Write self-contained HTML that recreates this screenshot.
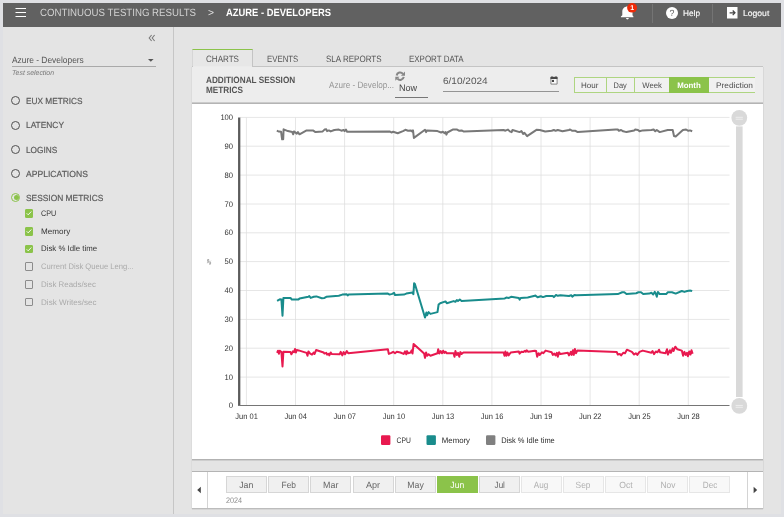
<!DOCTYPE html>
<html lang="en">
<head>
<meta charset="utf-8">
<title>Continuous Testing Results - Azure - Developers</title>
<style>
*{box-sizing:border-box;margin:0;padding:0}
html,body{width:784px;height:517px;overflow:hidden}
body{text-rendering:geometricPrecision;background:#dfe0e4;font-family:"Liberation Sans",sans-serif;position:relative;color:#444}
.a{position:absolute}
.t{position:absolute;white-space:nowrap;line-height:1}
#hdr{left:3px;top:3px;width:778px;height:24px;background:#616161}
#side{left:3px;top:27px;width:170px;height:487px;background:#e4e4e4}
#divider{left:173px;top:27px;width:1px;height:487px;background:#c6c6c6}
#main{left:174px;top:27px;width:607px;height:487px;background:#e4e4e4}
.sep{position:absolute;top:4px;width:1px;height:19px;background:#747474}
.nav{font-size:8.8px;color:#5a5a5a;left:25.7px;-webkit-text-stroke:.18px #5a5a5a}
.rad{position:absolute;left:11.3px;width:9px;height:9px;border:1.5px solid #505050;border-radius:50%}
.cb{position:absolute;left:25.1px;width:8.3px;height:8.5px;border:1.2px solid #8c8c8c;border-radius:1px}
.cb.on{background:#8bc34a;border-color:#8bc34a}
.cl{font-size:8px;left:40.5px;color:#333}
.cl.off{color:#aaa}
.tab{font-size:9.2px;color:#555;top:55px}
.seg{position:absolute;top:77px;height:16px;font-size:8px;color:#4c4c4c;text-align:center;line-height:15px;border-top:1px solid #aed581;border-bottom:1px solid #aed581;border-left:1px solid #aed581;background:#f1f1f1;white-space:nowrap}
.mon{position:absolute;top:476px;width:41px;height:17px;background:#f0f0f0;border:1px solid #d6d6d6;font-size:9px;color:#666;text-align:center;line-height:16px}
.mon.dis{color:#b0b0b0;background:#f8f8f8;border-color:#e6e6e6}

.sx{display:inline-block}
.mon.sel{background:#8bc34a;border-color:#8bc34a;color:#fff}
</style>
</head>
<body>
<div id="hdr" class="a"></div>
<div id="side" class="a"></div>
<div id="divider" class="a"></div>
<div id="main" class="a"></div>
<!-- header -->
<svg class="a" style="left:15px;top:6.5px" width="12" height="12" viewBox="0 0 12 12"><path d="M0.5 1.5h10.5M0.5 5.5h10.5M0.5 9.5h10.5" stroke="#fff" stroke-width="1.2" fill="none"/></svg>
<div class="t" id="h1" style="transform:scaleX(0.921);transform-origin:left;left:40px;top:7.7px;font-size:10.5px;color:#d2d2d2">CONTINUOUS TESTING RESULTS</div>
<div class="t" id="h2" style="transform:scaleX(0.977);transform-origin:left;left:208px;top:7.7px;font-size:10.5px;color:#e8e8e8">&gt;</div>
<div class="t" id="h3" style="transform:scaleX(0.895);transform-origin:left;left:226px;top:7.7px;font-size:10.5px;color:#fff;font-weight:bold">AZURE - DEVELOPERS</div>
<svg class="a" style="left:619px;top:3px" width="20" height="19" viewBox="0 0 20 19"><path d="M8.4 3.4C5.4 3.4 3.3 5.6 3.3 8.6V12.2L1.9 13.6V14.3H14.4V13.6L13.5 12.2V8.6C13.5 5.6 11.4 3.4 8.4 3.4Z" fill="#fff"/><path d="M7 15.1h2.8a1.4 1.4 0 0 1-2.8 0z" fill="#fff"/><ellipse cx="13.1" cy="4.85" rx="5" ry="4.75" fill="#ee2a08"/></svg>
<div class="t" id="badge" style="left:630.3px;top:4.5px;font-size:7px;font-weight:bold;color:#fff">1</div>
<div class="sep" style="left:652px"></div><div class="sep" style="left:712px"></div>
<div class="a" style="left:666px;top:7px;width:12px;height:12px;border-radius:50%;background:#fff"></div>
<div class="t" id="q" style="left:669.6px;top:8.8px;font-size:8.8px;color:#5a5a5a">?</div>
<div class="t" id="help" style="transform:scaleX(1.009);transform-origin:left;left:683.3px;top:10px;font-size:8.2px;color:#fff;-webkit-text-stroke:.12px #fff">Help</div>
<svg class="a" style="left:727px;top:7px" width="11" height="12" viewBox="0 0 11 12"><rect x="0" y="0" width="10.5" height="11.5" fill="#fff"/><path d="M2.6 5.8h5.4M5.7 3.5l2.3 2.3l-2.3 2.3" stroke="#444" stroke-width="1.2" fill="none"/></svg>
<div class="t" id="logout" style="transform:scaleX(1.05);transform-origin:left;left:743.4px;top:10px;font-size:8.2px;color:#fff;-webkit-text-stroke:.12px #fff">Logout</div>
<!-- sidebar -->
<svg class="a" style="left:148px;top:34px" width="8" height="8" viewBox="0 0 8 8"><path d="M3.6 1L1.2 4l2.4 3M6.6 1L4.2 4l2.4 3" stroke="#7a7a7a" stroke-width="1.1" fill="none"/></svg>
<div class="t" id="sel" style="transform:scaleX(0.932);transform-origin:left;left:12px;top:55.5px;font-size:9px;color:#555">Azure - Developers</div>
<svg class="a" style="left:147px;top:58px" width="8" height="5" viewBox="0 0 8 5"><path d="M1 1h5.6L3.8 3.8z" fill="#555"/></svg>
<div class="a" style="left:12px;top:65.5px;width:144px;height:1px;background:#a9a9a9"></div>
<div class="t" id="tsel" style="transform:scaleX(0.987);transform-origin:left;left:12px;top:69.5px;font-size:7px;font-style:italic;color:#777">Test selection</div>
<div class="rad" style="top:96.2px"></div>
<div class="t nav" id="nav0" style="transform:scaleX(0.941);transform-origin:left;top:97px">EUX METRICS</div>
<div class="rad" style="top:120.5px"></div>
<div class="t nav" id="nav1" style="transform:scaleX(0.952);transform-origin:left;top:121.3px">LATENCY</div>
<div class="rad" style="top:144.8px"></div>
<div class="t nav" id="nav2" style="transform:scaleX(0.938);transform-origin:left;top:145.6px">LOGINS</div>
<div class="rad" style="top:169.1px"></div>
<div class="t nav" id="nav3" style="transform:scaleX(0.976);transform-origin:left;top:169.9px">APPLICATIONS</div>
<div class="rad" style="top:193.3px;border-color:#8bc34a;border-width:1.6px;width:9.2px;height:9.2px"></div><div class="a" style="left:13.5px;top:195.4px;width:5px;height:5px;border-radius:50%;background:#8bc34a"></div>
<div class="t nav" id="nav4" style="transform:scaleX(0.953);transform-origin:left;top:194.2px">SESSION METRICS</div>
<div class="cb on" style="top:209.2px"></div><svg class="a" style="left:25.2px;top:209.4px" width="8" height="8" viewBox="0 0 8 8"><path d="M1.7 4.3l1.5 1.5l3.1-3.3" stroke="#fff" stroke-width=".9" fill="none"/></svg>
<div class="t cl" id="cl0" style="transform:scaleX(0.9);transform-origin:left;top:209.9px">CPU</div>
<div class="cb on" style="top:227px"></div><svg class="a" style="left:25.2px;top:227.2px" width="8" height="8" viewBox="0 0 8 8"><path d="M1.7 4.3l1.5 1.5l3.1-3.3" stroke="#fff" stroke-width=".9" fill="none"/></svg>
<div class="t cl" id="cl1" style="transform:scaleX(1.011);transform-origin:left;top:227.7px">Memory</div>
<div class="cb on" style="top:244.7px"></div><svg class="a" style="left:25.2px;top:244.9px" width="8" height="8" viewBox="0 0 8 8"><path d="M1.7 4.3l1.5 1.5l3.1-3.3" stroke="#fff" stroke-width=".9" fill="none"/></svg>
<div class="t cl" id="cl2" style="transform:scaleX(0.978);transform-origin:left;top:245.4px">Disk % Idle time</div>
<div class="cb" style="top:262.4px"></div>
<div class="t cl off" id="cl3" style="transform:scaleX(0.95);transform-origin:left;top:263.1px">Current Disk Queue Leng...</div>
<div class="cb" style="top:280.2px"></div>
<div class="t cl off" id="cl4" style="transform:scaleX(0.988);transform-origin:left;top:280.9px">Disk Reads/sec</div>
<div class="cb" style="top:297.9px"></div>
<div class="t cl off" id="cl5" style="transform:scaleX(1.01);transform-origin:left;top:298.6px">Disk Writes/sec</div>
<!-- tabs -->
<div class="a" style="left:192px;top:49px;width:61px;height:18px;background:#e7e7e7;border-top:1.5px solid #8bc34a;border-left:1px solid #d6d6d6;border-right:1px solid #c4c4c4"></div>
<div class="a" style="left:192px;top:66px;width:571px;height:38px;background:#ededed;border-top:1px solid #c4c4c4;border-bottom:1px solid #b4b4b4"></div>
<div class="a" style="left:192px;top:102px;width:571px;height:1px;background:#cbcbcb"></div>
<div class="a" style="left:193px;top:66px;width:59px;height:1px;background:#ebebeb"></div>
<div class="t tab" id="tab0" style="transform:scaleX(0.877);transform-origin:left;left:205.7px">CHARTS</div>
<div class="t tab" id="tab1" style="transform:scaleX(0.85);transform-origin:left;left:266.7px">EVENTS</div>
<div class="t tab" id="tab2" style="transform:scaleX(0.872);transform-origin:left;left:325.8px">SLA REPORTS</div>
<div class="t tab" id="tab3" style="transform:scaleX(0.866);transform-origin:left;left:408.9px">EXPORT DATA</div>
<div class="t" id="ttl" style="transform:scaleX(0.893);transform-origin:left;left:205.7px;top:74.9px;font-size:9.2px;font-weight:bold;color:#555;line-height:10.3px">ADDITIONAL SESSION<br>METRICS</div>
<div class="t" id="azd" style="transform:scaleX(0.884);transform-origin:left;left:329px;top:81.1px;font-size:9.2px;color:#959595">Azure - Develop...</div>
<svg class="a" style="left:394.7px;top:70.6px" width="10.4" height="10.4" viewBox="0 0 10 10"><path d="M1.6 4.3A3.4 3.4 0 0 1 7.6 2.7M8.4 5.7A3.4 3.4 0 0 1 2.4 7.3" stroke="#878787" stroke-width="2" fill="none"/><path d="M9.7 .5v4h-4zM.3 9.5v-4h4z" fill="#878787"/></svg>
<div class="t" id="now" style="transform:scaleX(0.973);transform-origin:left;left:398.5px;top:83.5px;font-size:9.3px;color:#444">Now</div>
<div class="a" style="left:395px;top:96.5px;width:33px;height:1px;background:#777"></div>
<div class="t" id="date" style="transform:scaleX(1.071);transform-origin:left;left:443px;top:75.8px;font-size:9.4px;color:#555">6/10/2024</div>
<div class="a" style="left:443px;top:91px;width:116px;height:1px;background:#949494"></div>
<svg class="a" style="left:550px;top:76px" width="8" height="9" viewBox="0 0 8 9"><path d="M.9 1.4h6.2v6.7H.9z" fill="#fafafa" stroke="#6e6e6e" stroke-width=".8"/><path d="M.5 .9h7v2.1H.5z" fill="#484848"/><rect x="1.9" y="3.9" width="2.1" height="2.1" fill="#444"/><path d="M2 .1v1M6 .1v1" stroke="#484848" stroke-width=".9"/></svg>
<div class="seg" style="left:573.5px;width:32px"><span class="sx" id="seg0" style="transform:scaleX(1.003);transform-origin:center;">Hour</span></div>
<div class="seg" style="left:605.5px;width:28.5px"><span class="sx" id="seg1" style="transform:scaleX(0.927);transform-origin:center;">Day</span></div>
<div class="seg" style="left:634px;width:35px"><span class="sx" id="seg2" style="transform:scaleX(0.965);transform-origin:center;">Week</span></div>
<div class="seg" style="left:669px;width:39.5px;background:#8bc34a;border-color:#8bc34a;color:#fff;font-weight:bold"><span class="sx" id="seg3" style="transform:scaleX(0.983);transform-origin:center;">Month</span></div>
<div class="seg" style="left:708.5px;width:46.5px;border-left:0;text-align:left;padding-left:7px"><span class="sx" id="seg4" style="transform:scaleX(1.04);transform-origin:left;">Prediction</span></div>
<!-- chart -->
<div class="a" style="left:192px;top:104px;width:571px;height:355px;background:#fff"></div>
<div class="a" style="left:192px;top:459px;width:571px;height:1px;background:#b2b2b2"></div>
<div class="a" style="left:192px;top:460px;width:571px;height:1px;background:#cecece"></div>
<div class="a" style="left:192px;top:471px;width:571px;height:1px;background:#b4b4b4"></div>
<div class="a" style="left:191px;top:67px;width:1px;height:442px;background:#dcdcdc"></div>
<div class="a" style="left:763px;top:67px;width:1px;height:442px;background:#d8d8d8"></div>
<div class="a" style="left:192px;top:472px;width:571px;height:36px;background:#fff"></div>
<div class="a" style="left:192px;top:508px;width:571px;height:1px;background:#bcbcbc"></div>
<div class="a" style="left:192px;top:509px;width:571px;height:1px;background:#d6d6d6"></div>
<svg class="a" style="left:0;top:0" width="784" height="517" viewBox="0 0 784 517" font-family="Liberation Sans, sans-serif">
<path d="M240 117.4H729.5M240 146.2H729.5M240 175.1H729.5M240 204H729.5M240 232.8H729.5M240 261.6H729.5M240 290.5H729.5M240 319.4H729.5M240 348.2H729.5M240 377.1H729.5M246.4 117.5V405.5M295.5 117.5V405.5M344.6 117.5V405.5M393.7 117.5V405.5M442.8 117.5V405.5M491.9 117.5V405.5M541 117.5V405.5M590.1 117.5V405.5M639.2 117.5V405.5M688.3 117.5V405.5" stroke="#dddddd" stroke-width=".75" fill="none"/>
<rect x="736" y="126.4" width="6.6" height="270.6" fill="#d9d9d9"/>
<circle cx="739.3" cy="117.8" r="7.9" fill="#d9d9d9"/><path d="M735.6 117.3h7.3M735.6 119.2h7.3" stroke="#efefef" stroke-width=".9"/>
<circle cx="739.3" cy="405.9" r="7.9" fill="#d9d9d9"/><path d="M735.6 405.4h7.3M735.6 407.3h7.3" stroke="#efefef" stroke-width=".9"/>
<path d="M239.2 117.5V406" stroke="#5c5c5c" stroke-width="2.3"/>
<path d="M238 405.5H729.5" stroke="#757575" stroke-width="1"/>
<text x="233.1" y="119.9" font-size="8" fill="#333" text-anchor="end" textLength="12.7" lengthAdjust="spacingAndGlyphs">100</text>
<text x="233.1" y="148.8" font-size="8" fill="#333" text-anchor="end" textLength="8.5" lengthAdjust="spacingAndGlyphs">90</text>
<text x="233.1" y="177.6" font-size="8" fill="#333" text-anchor="end" textLength="8.5" lengthAdjust="spacingAndGlyphs">80</text>
<text x="233.1" y="206.5" font-size="8" fill="#333" text-anchor="end" textLength="8.5" lengthAdjust="spacingAndGlyphs">70</text>
<text x="233.1" y="235.3" font-size="8" fill="#333" text-anchor="end" textLength="8.5" lengthAdjust="spacingAndGlyphs">60</text>
<text x="233.1" y="264.1" font-size="8" fill="#333" text-anchor="end" textLength="8.5" lengthAdjust="spacingAndGlyphs">50</text>
<text x="233.1" y="293" font-size="8" fill="#333" text-anchor="end" textLength="8.5" lengthAdjust="spacingAndGlyphs">40</text>
<text x="233.1" y="321.9" font-size="8" fill="#333" text-anchor="end" textLength="8.5" lengthAdjust="spacingAndGlyphs">30</text>
<text x="233.1" y="350.7" font-size="8" fill="#333" text-anchor="end" textLength="8.5" lengthAdjust="spacingAndGlyphs">20</text>
<text x="233.1" y="379.6" font-size="8" fill="#333" text-anchor="end" textLength="8.5" lengthAdjust="spacingAndGlyphs">10</text>
<text x="233.1" y="408.4" font-size="8" fill="#333" text-anchor="end" textLength="4.3" lengthAdjust="spacingAndGlyphs">0</text>
<text x="246.6" y="419" font-size="8" fill="#333" text-anchor="middle" textLength="22.5" lengthAdjust="spacingAndGlyphs">Jun 01</text>
<text x="295.7" y="419" font-size="8" fill="#333" text-anchor="middle" textLength="22.5" lengthAdjust="spacingAndGlyphs">Jun 04</text>
<text x="344.8" y="419" font-size="8" fill="#333" text-anchor="middle" textLength="22.5" lengthAdjust="spacingAndGlyphs">Jun 07</text>
<text x="393.9" y="419" font-size="8" fill="#333" text-anchor="middle" textLength="22.5" lengthAdjust="spacingAndGlyphs">Jun 10</text>
<text x="443" y="419" font-size="8" fill="#333" text-anchor="middle" textLength="22.5" lengthAdjust="spacingAndGlyphs">Jun 13</text>
<text x="492.1" y="419" font-size="8" fill="#333" text-anchor="middle" textLength="22.5" lengthAdjust="spacingAndGlyphs">Jun 16</text>
<text x="541.2" y="419" font-size="8" fill="#333" text-anchor="middle" textLength="22.5" lengthAdjust="spacingAndGlyphs">Jun 19</text>
<text x="590.3" y="419" font-size="8" fill="#333" text-anchor="middle" textLength="22.5" lengthAdjust="spacingAndGlyphs">Jun 22</text>
<text x="639.4" y="419" font-size="8" fill="#333" text-anchor="middle" textLength="22.5" lengthAdjust="spacingAndGlyphs">Jun 25</text>
<text x="688.5" y="419" font-size="8" fill="#333" text-anchor="middle" textLength="22.5" lengthAdjust="spacingAndGlyphs">Jun 28</text>
<text x="0" y="2" font-size="6" fill="#666" text-anchor="middle" transform="translate(209.1,262) rotate(28)">%</text>
<polyline points="276.8,130.7 278.9,131.6 281.1,131.8 282.1,139.3 283.2,139.3 283.6,129.3 287.9,131.1 292.3,132.1 293.2,134.3 293.9,131.4 296.8,133.6 297.9,132.1 299.5,134.3 306.6,130.4 312.9,130.4 315.5,132.1 322.7,131.4 324.5,129.6 326.3,129.3 327.1,131.1 328.9,130.4 330.7,131.4 334.3,130 338.8,129.6 341.4,130.7 343.6,130 344.6,131.1 345.9,129.6 347.1,131.8 389.6,131.4 391.4,132.5 393.2,131.8 397.7,133.2 403,131.1 405.4,129.8 408,130.7 410.7,130.4 412.5,131.8 413,130.4 413.9,137.9 425,129.8 426.1,132.1 426.8,130.4 437.5,131.1 441.1,132.5 442.9,131.8 444.6,133.2 445.5,132.1 446.4,134.6 447.3,132.5 452.7,129.6 457.1,129.6 458.9,130.7 461.6,130.4 463.9,131.6 503.6,130 505.4,130.7 508,129.6 509.8,131.4 511.6,132.1 512.5,130 519.6,132.1 521.4,131.1 523.2,133.9 524.5,132.9 527.1,136.1 535.7,130.4 536.5,129.8 539.8,130 545.2,131.5 551.7,130.8 553.9,130 555.6,130.8 557.8,130 562.5,131.3 569,130 570.1,129.5 572.3,130.8 575.5,130.8 577.7,132.1 615.6,129.5 617.8,129.5 618.9,130.8 621.1,130 623.2,131.3 626.5,132.1 634.1,130.4 635.2,129.5 638,130 639.5,131.3 642.7,130.4 651.4,130 653.6,129.5 655.3,131.3 656.8,130 659.7,132.1 667.7,130 672.7,130 674,136 675.7,136.5 682.9,130 686.1,129.5 688.3,130.8 690,130.4 692.2,131.3" fill="none" stroke="#787878" stroke-width="2" stroke-linejoin="round"/>
<polyline points="277.1,300.9 279.8,299.3 281.4,299.6 282.5,315.7 283.4,297.9 290.5,297.9 291.8,299.6 298.2,299.6 299.5,298.6 308.4,296.8 309.3,296.1 310.7,297.9 313.8,296.8 316.4,296.4 321.8,298.2 324.5,297.9 326.3,296.8 338.8,295.7 342.3,294.6 346.8,294.3 347.7,295.4 348.6,294.6 387.9,293.6 389.6,294.6 392.3,293.9 394.1,292.9 395,295 403.9,294.6 406.3,293.6 412.5,292.5 413.4,294.2 414.1,283.2 414.9,284 425,317.5 426.4,312.5 427.1,315.2 428.6,312.1 430.4,313.9 437.5,312.1 438.6,304.5 440.2,303.2 445.5,301.4 446.8,303.2 453.6,301.1 455.4,301.8 456.8,300 458,301.1 459.8,299.6 461.6,301.1 504.5,298.6 506.3,297.5 508.9,297.9 511.1,296.8 518.8,297.9 519.6,299.6 520.7,297.9 527.7,297.5 534.8,295.7 535.4,295.6 537.6,297.3 540.8,296.2 543,297.1 546.3,296 552.8,296 553.9,297.1 556,295 557.8,295.8 560.4,295.2 569,296 571.2,295.2 572.3,296.7 574.4,295 576.6,295.2 617.8,294.1 622.2,292.3 624.3,292.3 626.5,294.1 636.2,293.2 638.4,292.3 641,292.3 643.2,294.1 649.3,293.6 651.4,292.8 653.2,294.5 654.7,291.9 655.8,293.6 656.8,296.7 657.9,291.9 659.7,294.1 666.2,294.1 667.7,292.3 672,292.3 675.7,293.6 681.8,291 684.4,291.9 687.2,291 690.5,290.6 692.2,291" fill="none" stroke="#198c8c" stroke-width="2" stroke-linejoin="round"/>
<polyline points="277.1,352.9 278,350.7 278.9,353.8 279.8,350.7 281.4,352.1 282.5,366.4 283.4,351.8 290.5,352.1 291.4,354.3 292.9,351.4 294.1,352.1 295,348.9 295.9,352.5 296.8,350 298.6,350.4 306.6,352.9 307.5,355.7 308.4,351.4 310.2,353.6 312,354.6 313.8,352.5 314.6,353.9 316.1,350 323.6,352.5 324.5,353.6 326.3,352.9 327.1,354.6 328.6,353.9 329.3,355.4 330.7,352.5 331.6,353.9 339.6,354.3 340.7,351.8 342.3,355.4 343.6,352.1 345,354.3 346.8,351.1 348.2,353.2 387.9,349.3 388.8,353.9 391.4,352.9 393.2,351.8 395,353.2 396.8,351.8 400.4,352.5 403.6,353.9 405,351.4 406.3,354.3 407.1,351.1 408,353.2 410.7,352.5 411.6,350.4 412.5,353.6 413.6,343.9 424.1,353.6 425,357.9 426.1,352.5 427.1,355.7 428.6,354.3 430.4,355.7 437.5,353.2 438.2,349.3 439.3,353.6 440.7,351.1 442,353.2 443.2,350.7 444.3,352.9 445.5,351.8 446.8,353.2 453.6,353.2 454.5,356.8 455.4,351.1 456.8,355 458,352.9 459.3,356.8 460.4,352.1 461.6,353.9 463.4,352.5 503.6,352.5 504.5,355.7 505.4,351.4 506.4,355.7 507.5,352.5 508.6,355.4 510.7,352.5 518.8,351.4 519.6,353.6 521.4,351.8 523.2,352.1 525,350.7 525.9,351.8 526.8,350.4 528.2,351.8 534.8,350.7 536.1,351 537.2,356.7 538.7,353.2 539.8,354.9 541.9,352.3 543.4,353.2 545.6,350.6 551.7,352.3 552.8,354.9 554.3,353.6 555.6,355.4 556.9,352.8 557.8,356.7 559.1,352.3 560.4,354.1 567.9,352.8 569,355.4 570.8,351.9 571.6,354.9 572.9,350.2 573.8,354.9 574.9,348.9 576,353.2 577.3,350.6 616.7,351.9 617.8,354.5 620,354.1 621.1,355.4 623.2,352.8 625,353.2 626.9,349.7 631.9,351.9 634.1,354.5 635.8,353.2 637.3,354.9 639.5,351.9 642.7,350.6 651.4,352.8 652.5,351 654,354.1 655.8,351.5 657.5,352.3 659,349.7 660.1,352.3 665.5,353.2 667,349.3 667.9,354.5 669.9,350.2 670.9,352.8 672.7,348.4 673.5,351 675.3,346.7 677.4,349.3 681.8,350.6 683.1,355.8 684.4,351.9 685.7,354.9 687,352.8 687.9,356.2 689.2,351.5 690.5,354.5 691.5,350.2 692.6,353.7" fill="none" stroke="#e8194f" stroke-width="2" stroke-linejoin="round"/>
<rect x="381" y="435.3" width="9.4" height="9.6" rx="1.2" fill="#e8194f"/><text x="396.6" y="443.3" font-size="8" fill="#2a2a2a" textLength="14.2" lengthAdjust="spacingAndGlyphs">CPU</text>
<rect x="426.5" y="435.3" width="9.4" height="9.6" rx="1.2" fill="#198c8c"/><text x="441.8" y="443.3" font-size="8" fill="#2a2a2a" textLength="28.2" lengthAdjust="spacingAndGlyphs">Memory</text>
<rect x="486" y="435.3" width="9.4" height="9.6" rx="1.2" fill="#808080"/><text x="501.2" y="443.3" font-size="8" fill="#2a2a2a" textLength="53.6" lengthAdjust="spacingAndGlyphs">Disk % Idle time</text>
</svg>
<!-- months -->
<div class="a" style="left:206.5px;top:472px;width:1px;height:36px;background:#d4d4d4"></div>
<div class="a" style="left:747px;top:472px;width:1px;height:36px;background:#d4d4d4"></div>
<svg class="a" style="left:196px;top:486px" width="6" height="8" viewBox="0 0 6 8"><path d="M4.8 .8v6.4L1.2 4z" fill="#444"/></svg>
<svg class="a" style="left:752px;top:486px" width="6" height="8" viewBox="0 0 6 8"><path d="M1.6 .8v6.4L5.2 4z" fill="#444"/></svg>
<div class="mon" style="left:226.2px"><span class="sx" id="m0" style="transform:scaleX(0.971);transform-origin:center;">Jan</span></div>
<div class="mon" style="left:268.3px"><span class="sx" id="m1" style="transform:scaleX(0.935);transform-origin:center;">Feb</span></div>
<div class="mon" style="left:310.4px"><span class="sx" id="m2" style="transform:scaleX(0.987);transform-origin:center;">Mar</span></div>
<div class="mon" style="left:352.5px"><span class="sx" id="m3" style="transform:scaleX(1.006);transform-origin:center;">Apr</span></div>
<div class="mon" style="left:394.6px"><span class="sx" id="m4" style="transform:scaleX(0.97);transform-origin:center;">May</span></div>
<div class="mon sel" style="left:436.7px"><span class="sx" id="m5" style="transform:scaleX(0.951);transform-origin:center;">Jun</span></div>
<div class="mon" style="left:478.8px"><span class="sx" id="m6" style="transform:scaleX(0.894);transform-origin:center;">Jul</span></div>
<div class="mon dis" style="left:520.9px"><span class="sx" id="m7" style="transform:scaleX(0.905);transform-origin:center;">Aug</span></div>
<div class="mon dis" style="left:563px"><span class="sx" id="m8" style="transform:scaleX(0.93);transform-origin:center;">Sep</span></div>
<div class="mon dis" style="left:605.1px"><span class="sx" id="m9" style="transform:scaleX(0.956);transform-origin:center;">Oct</span></div>
<div class="mon dis" style="left:647.2px"><span class="sx" id="m10" style="transform:scaleX(0.93);transform-origin:center;">Nov</span></div>
<div class="mon dis" style="left:689.3px"><span class="sx" id="m11" style="transform:scaleX(0.905);transform-origin:center;">Dec</span></div>
<div class="t" id="yr" style="transform:scaleX(0.905);transform-origin:left;left:226.4px;top:496.7px;font-size:8px;color:#8c8c8c">2024</div>
</body>
</html>
